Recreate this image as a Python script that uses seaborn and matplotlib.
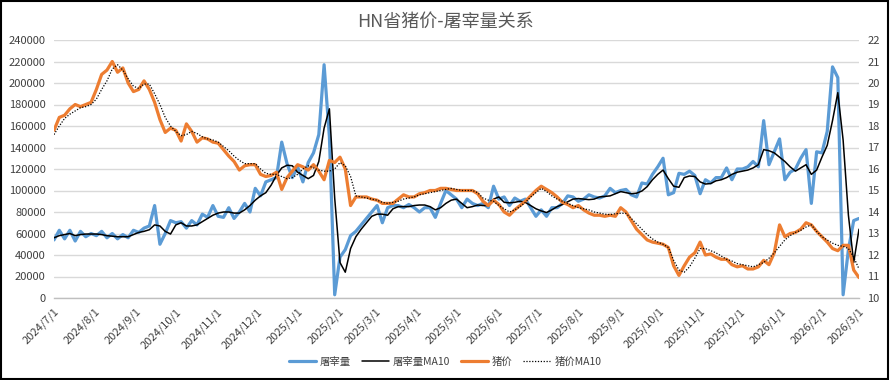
import matplotlib
matplotlib.use("Agg")
import matplotlib.pyplot as plt
from matplotlib.patches import Rectangle
import pandas as pd
import seaborn as sns

# ---------------- data (sampled every 4 days, 2024/7/1 .. 2026/3/1) ----------------
start_date = "2024-07-01"
end_date = "2026-03-01"

slaughter = [
    54, 63, 55, 63, 53, 62, 57, 60, 58, 62,
    56, 60, 55, 59, 56, 63, 61, 65, 67, 86,
    50, 60, 72, 70, 71, 65, 72, 68, 78, 75,
    86, 76, 75, 84, 74, 80, 88, 80, 102, 95,
    108, 110, 112, 145, 125, 112, 122, 108, 126, 135,
    152, 217, 150, 3, 38, 45, 58, 62, 68, 74,
    80, 86, 70, 84, 86, 86, 84, 87, 84, 80,
    84, 84, 75, 88, 100, 96, 92, 84, 92, 88,
    86, 88, 84, 104, 92, 94, 86, 93, 90, 92,
    84, 76, 82, 76, 84, 84, 88, 95, 94, 90,
    92, 96, 94, 93, 95, 102, 98, 100, 101, 96,
    94, 107, 106, 115, 122, 130, 96, 98, 116, 115,
    118, 114, 97, 110, 107, 112, 112, 121, 110, 120,
    120, 122, 127, 122, 165, 124, 136, 148, 110, 117,
    120, 130, 138, 88, 136, 135, 155, 215, 205, 3,
    45, 72, 74,
]  # thousand head

slaughter_ma10 = [
    56, 58, 59, 60, 58, 59, 59.5, 59.5, 59.5, 59,
    58, 57.5, 57, 57, 57, 59, 61, 62, 63.5, 68,
    67, 62, 59.5, 68, 70, 67, 67, 68, 71, 74,
    77, 79, 80, 80, 79, 79, 82, 86, 91, 95,
    98, 105, 114, 121, 123.5, 123, 117, 114, 111, 114,
    127, 158, 176, 93, 33, 24, 46, 57, 64, 70,
    76, 78, 78, 77, 83, 85, 85, 85, 86, 86.5,
    86.5, 85, 82, 84, 88, 91, 92, 88, 84, 85,
    86.5, 86, 86, 92, 94, 89, 88.5, 89, 90, 89,
    86, 83, 81, 79.5, 82, 85, 87, 89.5, 92, 92.5,
    92, 91.5, 92, 94, 94.5, 95, 97, 99, 98, 97,
    97.5, 99.5, 103.6, 110, 115, 119, 111, 104, 103, 112,
    113.5, 113, 108, 106, 106.5, 109, 110, 112, 115, 117,
    118, 119, 121, 124, 138, 137, 135, 131, 127, 122,
    118, 121, 124, 115, 119, 131, 142, 165, 191, 147,
    77, 33, 64,
]  # thousand head

price = [
    17.8, 18.4, 18.5, 18.8, 19.0, 18.9, 19.0, 19.1, 19.7, 20.4,
    20.6, 21.0, 20.5, 20.7, 20.0, 19.6, 19.7, 20.1, 19.7, 19.1,
    18.3, 17.7, 17.9, 17.8, 17.3, 18.1, 17.75, 17.25, 17.45, 17.4,
    17.25, 17.2, 16.9, 16.6, 16.35, 15.95, 16.15, 16.2, 16.2, 15.75,
    15.65, 15.7, 15.85, 15.05, 15.6, 15.9, 16.2, 16.1, 15.95, 16.2,
    15.9, 15.5, 16.4, 16.3, 16.55, 16.0, 14.3, 14.7, 14.7, 14.7,
    14.6, 14.55, 14.4, 14.4, 14.4, 14.6, 14.8, 14.7, 14.7, 14.85,
    14.9, 15.0, 15.0, 15.1, 15.1, 15.05, 15.0, 15.0, 15.0, 15.0,
    14.85, 14.5, 14.3, 14.55, 14.35, 14.0, 13.85, 14.1, 14.3, 14.5,
    14.75, 15.0, 15.2, 15.05, 14.9, 14.7, 14.45, 14.35, 14.2, 14.3,
    14.1, 13.95, 13.85, 13.85, 13.8, 13.85, 13.8, 14.2, 14.0, 13.6,
    13.2, 12.95, 12.7, 12.6, 12.55, 12.5, 12.35, 11.5, 11.05, 11.5,
    11.9, 12.1, 12.6, 12.0, 12.05, 11.9, 11.8, 11.8, 11.55, 11.45,
    11.5, 11.35, 11.35, 11.45, 11.75, 11.55, 12.1, 13.4, 12.85, 13.0,
    13.05, 13.2, 13.5, 13.4, 13.1, 12.85, 12.6, 12.3, 12.2, 12.45,
    12.45, 11.3, 10.95,
]  # yuan/kg

price_ma10 = [
    17.6, 18.0, 18.35, 18.55, 18.7, 18.85, 18.9, 19.0, 19.25, 19.7,
    20.1, 20.65, 20.85, 20.6, 20.2, 19.85, 19.75, 19.95, 19.95, 19.5,
    19.0, 18.4, 18.0, 17.75, 17.55, 17.6, 17.75, 17.65, 17.5, 17.4,
    17.35, 17.25, 17.05, 16.85, 16.6, 16.4, 16.25, 16.25, 16.25, 16.0,
    15.8, 15.75, 15.75, 15.65, 15.55, 15.6, 15.75, 16.0, 16.15, 16.05,
    15.95, 15.9, 15.9, 16.0, 16.3, 16.15, 15.65, 14.75, 14.7, 14.65,
    14.6, 14.55, 14.45, 14.4, 14.45, 14.5, 14.6, 14.65, 14.7, 14.8,
    14.85, 14.9, 14.95, 15.0, 15.05, 15.1, 15.05, 15.0, 15.0, 15.0,
    14.9, 14.65, 14.55, 14.5, 14.3, 14.15, 14.0, 14.1, 14.25, 14.45,
    14.7, 14.9, 15.1, 14.95, 14.75, 14.6, 14.5, 14.4, 14.3, 14.2,
    14.15, 14.1, 14.0, 13.95, 13.9, 13.88, 13.92, 13.94, 13.94, 13.7,
    13.45, 13.2, 12.95, 12.75, 12.6, 12.5, 12.35, 11.75, 11.3, 11.2,
    11.45, 11.85, 12.3, 12.3, 12.2, 12.1, 11.95, 11.8, 11.72, 11.6,
    11.55, 11.5, 11.45, 11.55, 11.65, 11.85, 12.1, 12.4, 12.7, 12.9,
    13.05, 13.15, 13.3, 13.4, 13.1, 12.85, 12.7, 12.55, 12.45, 12.4,
    12.3, 11.9, 11.35,
]  # yuan/kg

left_ticks = list(range(0, 240001, 20000))
right_ticks = list(range(10, 23))
series_names = ["屠宰量", "屠宰量MA10", "猪价", "猪价MA10"]
title_text = "HN省猪价-屠宰量关系"

# ---------------- build frame ----------------
dates = pd.date_range(start_date, end_date, freq="4D")
df = pd.DataFrame({
    "date": dates,
    "slaughter": [v * 1000 for v in slaughter],
    "slaughter_ma": [v * 1000 for v in slaughter_ma10],
    "price": price,
    "price_ma": price_ma10,
})

sns.set_theme(style="white")
plt.rcParams["font.family"] = ["Noto Sans CJK SC", "DejaVu Sans"]

W, H = 890, 380
fig = plt.figure(figsize=(W / 100, H / 100), dpi=100)
fig.patch.set_facecolor("white")
ax = fig.add_axes([54 / W, (H - 298) / H, 805 / W, 258 / H])
ax2 = ax.twinx()

blue = "#5B9BD5"
orange = "#ED7D31"

sns.lineplot(data=df, x="date", y="slaughter", ax=ax, color=blue, lw=2.3,
             label=series_names[0], legend=False)
sns.lineplot(data=df, x="date", y="slaughter_ma", ax=ax, color="black", lw=1.1,
             label=series_names[1], legend=False)
sns.lineplot(data=df, x="date", y="price", ax=ax2, color=orange, lw=2.3,
             label=series_names[2], legend=False)
sns.lineplot(data=df, x="date", y="price_ma", ax=ax2, color="black", lw=0.9,
             linestyle=(0, (1, 1.3)), label=series_names[3], legend=False)

ax.set_ylim(0, 240000)
ax.set_yticks(left_ticks)
ax.set_yticklabels([str(t) for t in left_ticks])
ax2.set_ylim(10, 22)
ax2.set_yticks(right_ticks)
ax2.set_yticklabels([str(t) for t in right_ticks])

ax.set_xlim(pd.Timestamp(start_date), pd.Timestamp(end_date))
months = pd.date_range(start_date, end_date, freq="MS")
ax.set_xticks(months)
ax.set_xticklabels([f"{d.year}/{d.month}/{d.day}" for d in months],
                   rotation=45, ha="right", rotation_mode="anchor")

for a in (ax, ax2):
    a.set_xlabel("")
    a.set_ylabel("")
    for s in a.spines.values():
        s.set_visible(False)
ax.spines["bottom"].set_visible(True)
ax.spines["bottom"].set_color("#BFBFBF")
ax.spines["bottom"].set_linewidth(1.0)

ax.yaxis.grid(True, color="#D9D9D9", lw=1.0)
ax.xaxis.grid(False)
ax2.grid(False)
ax.set_axisbelow(True)

ax.tick_params(axis="y", length=0, labelsize=8, colors="#404040", pad=6)
ax2.tick_params(axis="y", length=0, labelsize=8, colors="#404040", pad=6)
ax.tick_params(axis="x", length=4, width=1, color="#BFBFBF", direction="out",
               labelsize=8, labelcolor="#404040", pad=2)

fig.text(0.5, 1 - 22 / H, title_text, ha="center", va="center",
         fontsize=13, color="#595959")

h1, l1 = ax.get_legend_handles_labels()
h2, l2 = ax2.get_legend_handles_labels()
fig.legend(h1 + h2, l1 + l2, loc="center", bbox_to_anchor=(0.5, 1 - 362 / H),
           ncol=4, frameon=False, fontsize=7.5, handlelength=2.6,
           handletextpad=0.4, columnspacing=1.0, labelcolor="#404040")

fig.patches.append(Rectangle((0.001, 0.002), 0.997, 0.995, transform=fig.transFigure,
                             fill=False, ec="black", lw=1.5))

fig.savefig("out.png", dpi=100)
